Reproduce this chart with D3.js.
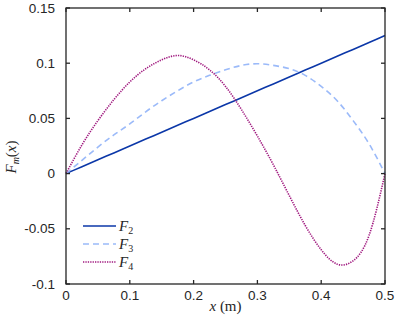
<!DOCTYPE html>
<html>
<head>
<meta charset="utf-8">
<script src="https://cdn.jsdelivr.net/npm/d3@7"></script>
<style>
  body { margin: 0; background: #fff; }
</style>
</head>
<body>
<svg id="chart"></svg>
<script>
// data
const xs = [0, 0.025, 0.05, 0.075, 0.1, 0.125, 0.15, 0.175, 0.2, 0.225, 0.25,
            0.275, 0.3, 0.325, 0.35, 0.375, 0.4, 0.425, 0.45, 0.475, 0.5];
const f2 = [0, 0.00625, 0.0125, 0.01875, 0.025, 0.03125, 0.0375, 0.04375, 0.05, 0.05625, 0.0625,
            0.06875, 0.075, 0.08125, 0.0875, 0.09375, 0.1, 0.10625, 0.1125, 0.11875, 0.125];
const f3 = [0, 0.012, 0.024, 0.035, 0.045, 0.056, 0.066, 0.075, 0.083, 0.089, 0.094,
            0.098, 0.0995, 0.098, 0.095, 0.089, 0.079, 0.066, 0.048, 0.027, 0];
const f4 = [0, 0.026, 0.048, 0.067, 0.083, 0.095, 0.103, 0.107, 0.103, 0.094, 0.079,
            0.058, 0.034, 0.008, -0.02, -0.047, -0.069, -0.082, -0.079, -0.056, 0];
const xTicks = [0, 0.1, 0.2, 0.3, 0.4, 0.5];
const yTicks = [-0.1, -0.05, 0, 0.05, 0.1, 0.15];
const seriesNames = ['2', '3', '4'];

const width = 399, height = 326;
const pLeft = 66, pRight = 385, pTop = 8, pBottom = 284;

const svg = d3.select('#chart').attr('width', width).attr('height', height);

const x = d3.scaleLinear().domain([0, 0.5]).range([pLeft, pRight]);
const y = d3.scaleLinear().domain([-0.1, 0.15]).range([pBottom, pTop]);

const axisColor = '#262626';
const tickFont = 'Liberation Sans, Arial, sans-serif';

// series
const series = [
  { name: seriesNames[0], vals: f2, color: '#0b37a8', dash: null, width: 1.6 },
  { name: seriesNames[1], vals: f3, color: '#9bbaf9', dash: '6,4', width: 1.6 },
  { name: seriesNames[2], vals: f4, color: '#a0197f', dash: '1.3,1.1', width: 1.6 }
];

const line = d3.line()
  .x((d, i) => x(xs[i]))
  .y(d => y(d))
  .curve(d3.curveNatural);

series.forEach(s => {
  svg.append('path')
    .datum(s.vals)
    .attr('fill', 'none')
    .attr('stroke', s.color)
    .attr('stroke-width', s.width)
    .attr('stroke-dasharray', s.dash)
    .attr('d', line);
});

// axes (ticks inward, box)
const g = svg.append('g');
g.append('rect')
  .attr('x', pLeft).attr('y', pTop)
  .attr('width', pRight - pLeft).attr('height', pBottom - pTop)
  .attr('fill', 'none').attr('stroke', axisColor).attr('stroke-width', 1.3);

xTicks.forEach(t => {
  g.append('line').attr('x1', x(t)).attr('x2', x(t)).attr('y1', pBottom).attr('y2', pBottom - 4)
    .attr('stroke', axisColor).attr('stroke-width', 1.3);
  g.append('line').attr('x1', x(t)).attr('x2', x(t)).attr('y1', pTop).attr('y2', pTop + 4)
    .attr('stroke', axisColor).attr('stroke-width', 1.3);
  g.append('text').attr('x', x(t)).attr('y', pBottom + 16)
    .attr('text-anchor', 'middle').attr('fill', axisColor)
    .style('font-family', tickFont).style('font-size', '13.5px')
    .text(t === 0 ? '0' : String(t));
});

yTicks.forEach(t => {
  g.append('line').attr('x1', pLeft).attr('x2', pLeft + 4).attr('y1', y(t)).attr('y2', y(t))
    .attr('stroke', axisColor).attr('stroke-width', 1.3);
  g.append('line').attr('x1', pRight).attr('x2', pRight - 4).attr('y1', y(t)).attr('y2', y(t))
    .attr('stroke', axisColor).attr('stroke-width', 1.3);
  g.append('text').attr('x', pLeft - 11).attr('y', y(t) + 4.5)
    .attr('text-anchor', 'end').attr('fill', axisColor)
    .style('font-family', tickFont).style('font-size', '13.5px')
    .text(String(t));
});

// axis labels
const serif = 'Liberation Serif, Times New Roman, serif';
const xl = svg.append('text')
  .attr('x', (pLeft + pRight) / 2).attr('y', 311)
  .attr('text-anchor', 'middle').attr('fill', axisColor)
  .style('font-family', serif).style('font-size', '15px');
xl.append('tspan').style('font-style', 'italic').text('x');
xl.append('tspan').text(' (m)');

const yl = svg.append('text')
  .attr('transform', `translate(16, 157) rotate(-90)`)
  .attr('text-anchor', 'middle').attr('fill', axisColor)
  .style('font-family', serif).style('font-size', '15px');
yl.append('tspan').style('font-style', 'italic').text('F');
yl.append('tspan').style('font-style', 'italic').style('font-size', '10px').attr('dy', 3).text('m');
yl.append('tspan').attr('dy', -3).text('(');
yl.append('tspan').style('font-style', 'italic').text('x');
yl.append('tspan').text(')');

// legend
const legRows = [226, 244, 262];
series.forEach((s, i) => {
  svg.append('line')
    .attr('x1', 83).attr('x2', 116)
    .attr('y1', legRows[i]).attr('y2', legRows[i])
    .attr('stroke', s.color).attr('stroke-width', s.width)
    .attr('stroke-dasharray', s.dash);
  const t = svg.append('text')
    .attr('x', 119).attr('y', legRows[i] + 4.5)
    .attr('fill', axisColor)
    .style('font-family', serif).style('font-size', '15px');
  t.append('tspan').style('font-style', 'italic').text('F');
  t.append('tspan').style('font-size', '10px').attr('dy', 3).text(s.name);
});
</script>
</body>
</html>
